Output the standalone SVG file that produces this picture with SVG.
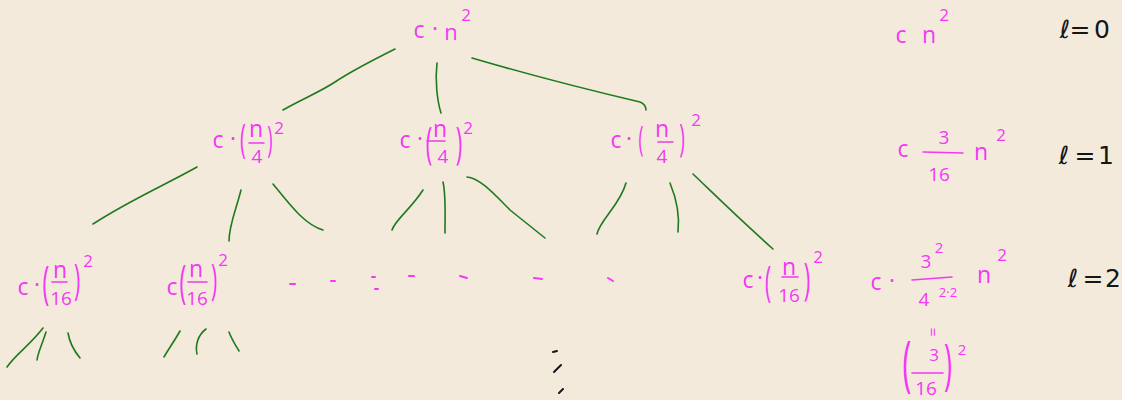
<svg xmlns="http://www.w3.org/2000/svg" width="1122" height="400" viewBox="0 0 1122 400">
<style>
.m{fill:#f438f4;font-family:'Open Sans','DejaVu Sans',sans-serif;text-anchor:middle}
.k{fill:#151515;font-family:'DejaVu Sans','Open Sans',sans-serif;text-anchor:middle}
.e{stroke:#1f7a1f;stroke-width:1.6;fill:none;stroke-linecap:round}
.b{stroke:#f438f4;stroke-width:1.6;stroke-linecap:round}
.d{stroke:#f438f4;stroke-width:2;stroke-linecap:round}
.kd{stroke:#151515;stroke-width:2;stroke-linecap:round}
.c{font-size:23px}.n{font-size:22px}.s{font-size:17px}.g{font-size:19px}
</style>
<rect width="1122" height="400" fill="#f3eadb"/>
<g id="connectors">
<path class="e" d="M395,49 C365,64 350,72 335,82 S300,100 283,110"/>
<path class="e" d="M437,63 C435,80 437,100 441,113"/>
<path class="e" d="M472,58 C530,75 580,88 640,102 C645,104 646,107 646,110"/>
<path class="e" d="M197,167 C165,185 130,200 93,224"/>
<path class="e" d="M241,190 C236,210 229,225 229,241"/>
<path class="e" d="M273,184 C290,205 305,225 323,230"/>
<path class="e" d="M423,190 C410,210 395,220 392,230"/>
<path class="e" d="M443,182 C446,195 445,215 445,233"/>
<path class="e" d="M467,177 C480,178 495,195 510,210 C525,222 535,230 545,238"/>
<path class="e" d="M626,183 C620,205 600,220 597,234"/>
<path class="e" d="M670,183 C677,200 680,215 678,232"/>
<path class="e" d="M693,174 C715,195 735,215 773,249"/>
<path class="e" d="M43,328 C30,345 15,355 7,367"/>
<path class="e" d="M46,332 C42,345 38,352 37,360"/>
<path class="e" d="M68,333 C70,345 75,352 80,358"/>
<path class="e" d="M180,331 C175,340 168,350 164,357"/>
<path class="e" d="M206,329 C198,335 195,345 197,354"/>
<path class="e" d="M229,332 C232,340 236,346 239,351"/>
</g>
<g id="root">
<text class="m c" x="419" y="38">c</text>
<text class="m c" x="435" y="37">·</text>
<text class="m n" x="451" y="40">n</text>
<text class="m s" x="466" y="21">2</text>
</g>
<g id="l1-left">
<text class="m c" x="218" y="148">c</text>
<text class="m c" x="233" y="147">·</text>
<text class="m" font-size="20" transform="translate(243,153) scale(1,2)">(</text>
<text class="m c" x="256" y="137">n</text>
<line class="b" x1="249" y1="143" x2="264" y2="143"/>
<text class="m" x="257" y="163" font-size="19">4</text>
<text class="m" font-size="18" transform="translate(270,152) scale(1,2)">)</text>
<text class="m s" x="279" y="134">2</text>
</g>
<g id="l1-mid">
<text class="m c" x="405" y="148">c</text>
<text class="m c" x="420" y="147">·</text>
<text class="m" font-size="22" transform="translate(429,158) scale(1,2)">(</text>
<text class="m c" x="440" y="137">n</text>
<line class="b" x1="427" y1="141" x2="445" y2="141"/>
<text class="m" x="443" y="163" font-size="19">4</text>
<text class="m" font-size="22" transform="translate(459,158) scale(1,2)">)</text>
<text class="m s" x="468" y="134">2</text>
</g>
<g id="l1-right">
<text class="m c" x="616" y="148">c</text>
<text class="m c" x="629" y="147">·</text>
<text class="m" font-size="17" transform="translate(641,151) scale(1,2)">(</text>
<text class="m c" x="662" y="137">n</text>
<line class="b" x1="658" y1="142" x2="673" y2="142"/>
<text class="m" x="662" y="163" font-size="19">4</text>
<text class="m" font-size="19" transform="translate(682,152) scale(1,2)">)</text>
<text class="m s" x="696" y="126">2</text>
</g>
<g id="l2-a">
<text class="m c" x="23" y="295">c</text>
<text class="m c" x="37" y="293">·</text>
<text class="m" font-size="23" transform="translate(46,299) scale(1,2)">(</text>
<text class="m c" x="60" y="278">n</text>
<line class="b" x1="52" y1="282" x2="67" y2="282"/>
<text class="m g" x="61" y="305">16</text>
<text class="m" font-size="21" transform="translate(77,294) scale(1,2)">)</text>
<text class="m s" x="88" y="267">2</text>
</g>
<g id="l2-b">
<text class="m c" x="172" y="295">c</text>
<text class="m" font-size="23" transform="translate(183,298) scale(1,2)">(</text>
<text class="m c" x="196" y="277">n</text>
<line class="b" x1="188" y1="282" x2="207" y2="282"/>
<text class="m g" x="197" y="305">16</text>
<text class="m" font-size="21" transform="translate(214,294) scale(1,2)">)</text>
<text class="m s" x="223" y="266">2</text>
</g>
<g id="l2-dots">
<line class="d" x1="290" y1="284" x2="295" y2="284"/>
<line class="d" x1="331" y1="281" x2="335" y2="281"/>
<line class="d" x1="372" y1="277" x2="375" y2="277"/>
<line class="d" x1="375" y1="289" x2="378" y2="289"/>
<line class="d" x1="409" y1="276" x2="414" y2="276"/>
<line class="d" x1="460" y1="276" x2="467" y2="278"/>
<line class="d" x1="534" y1="278" x2="542" y2="279"/>
<line class="d" x1="608" y1="278" x2="613" y2="281"/>
</g>
<g id="l2-c">
<text class="m c" x="748" y="288">c</text>
<text class="m c" x="760" y="286">·</text>
<text class="m" font-size="21" transform="translate(768,296) scale(1,2)">(</text>
<text class="m c" x="789" y="275">n</text>
<line class="b" x1="782" y1="277" x2="798" y2="277"/>
<text class="m g" x="789" y="302">16</text>
<text class="m" font-size="22" transform="translate(807,294) scale(1,2)">)</text>
<text class="m s" x="818" y="263">2</text>
</g>
<g id="ellipsis">
<line class="kd" x1="553" y1="352" x2="557" y2="351"/>
<line class="kd" x1="554" y1="372" x2="561" y2="365"/>
<line class="kd" x1="559" y1="393" x2="563" y2="389"/>
</g>
<g id="sum-0">
<text class="m c" x="901" y="43">c</text>
<text class="m c" x="929" y="43">n</text>
<text class="m s" x="944" y="21">2</text>
</g>
<g id="level-0">
<text class="k" font-size="25" y="38"><tspan x="1065">ℓ</tspan><tspan x="1080">=</tspan><tspan x="1102">0</tspan></text>
</g>
<g id="sum-1">
<text class="m c" x="903" y="157">c</text>
<text class="m g" x="944" y="144">3</text>
<line class="b" x1="923" y1="152" x2="963" y2="153"/>
<text class="m g" x="939" y="181">16</text>
<text class="m c" x="981" y="160">n</text>
<text class="m s" x="1001" y="141">2</text>
</g>
<g id="level-1">
<text class="k" font-size="25" y="164"><tspan x="1064">ℓ</tspan><tspan x="1085">=</tspan><tspan x="1106">1</tspan></text>
</g>
<g id="sum-2">
<text class="m c" x="876" y="290">c</text>
<text class="m c" x="892" y="289">·</text>
<text class="m g" x="926" y="268">3</text>
<text class="m" x="939" y="253" font-size="15">2</text>
<line class="b" x1="912" y1="280" x2="952" y2="277"/>
<text class="m" x="924" y="306" font-size="19">4</text>
<text class="m" x="948" y="297" font-size="13">2·2</text>
<text class="m c" x="984" y="283">n</text>
<text class="m s" x="1002" y="261">2</text>
<text class="m" x="0" y="0" font-size="16" transform="translate(932,332) rotate(90)" dy="5">=</text>
<text class="m" font-size="30" transform="translate(907,384) scale(1,2)">(</text>
<text class="m" x="934" y="361" font-size="17">3</text>
<line class="b" x1="912" y1="373" x2="943" y2="373"/>
<text class="m g" x="926" y="395">16</text>
<text class="m" font-size="27" transform="translate(948,383) scale(1,2)">)</text>
<text class="m" x="962" y="355" font-size="15">2</text>
</g>
<g id="level-2">
<text class="k" font-size="25" y="287"><tspan x="1073">ℓ</tspan><tspan x="1093">=</tspan><tspan x="1113">2</tspan></text>
</g>
</svg>
